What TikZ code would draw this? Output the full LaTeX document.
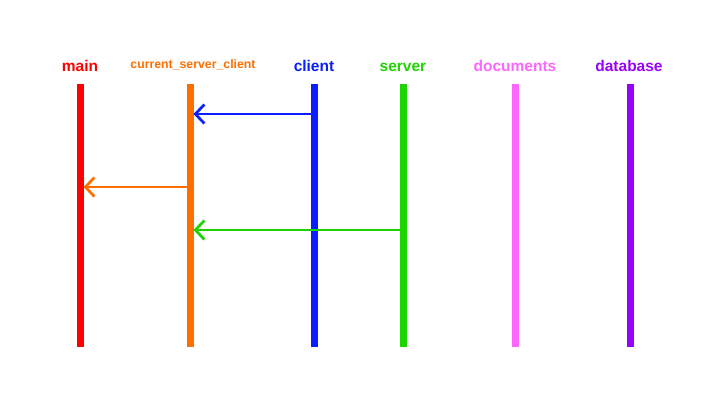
\documentclass[tikz,border=0pt]{standalone}
\usepackage{fontspec}
\setmainfont{Liberation Sans}
\usepackage{tikz}
\usetikzlibrary{arrows.meta}

\definecolor{cmain}{HTML}{FF0000}
\definecolor{ccurrent}{HTML}{FF6F00}
\definecolor{cclient}{HTML}{0A1EFF}
\definecolor{cserver}{HTML}{1ED400}
\definecolor{cdocs}{HTML}{FF66FF}
\definecolor{cdb}{HTML}{9900FF}

\begin{document}
\begin{tikzpicture}[x=1pt,y=-1pt,
        lifeline/.style={line width=7pt,draw=#1},
        actor/.style={font=\bfseries\fontsize{15.5}{18}\selectfont,text=#1,inner sep=0pt,anchor=base},
        msg/.style={line width=2.7pt,draw=#1,-{Straight Barb[length=9pt,width=19pt,line width=2.7pt]}},
    ]
    \useasboundingbox (0,0) rectangle (707,408);
    % labels
    \node[actor=cmain] (main) at (80,71) {main};
    \node[actor=ccurrent,font=\bfseries\fontsize{12.3}{14}\selectfont] (current) at (193,68.5) {current\_server\_client};
    \node[actor=cclient] (client) at (314,71) {client};
    \node[actor=cserver] (server) at (403,71) {server};
    \node[actor=cdocs] (documents) at (515,71) {documents};
    \node[actor=cdb] (database) at (629,71) {database};
    % lifelines
    \draw[lifeline=cmain] (80,84) -- (80,347);
    \draw[lifeline=ccurrent] (190,84) -- (190,347);
    \draw[lifeline=cclient] (314,84) -- (314,347);
    \draw[lifeline=cserver] (403,84) -- (403,347);
    \draw[lifeline=cdocs] (515,84) -- (515,347);
    \draw[lifeline=cdb] (630,84) -- (630,347);
    % client -> current_server_client
    \coordinate (m1s) at (310.5,114);
    \coordinate (m1e) at (193.5,114);
    \draw[msg=cclient] (m1s) -- (m1e);
    % current_server_client -> main
    \coordinate (m2s) at (186.5,187);
    \coordinate (m2e) at (83.5,187);
    \draw[msg=ccurrent] (m2s) -- (m2e);
    % server -> current_server_client
    \coordinate (m3s) at (399.5,230);
    \coordinate (m3e) at (193.5,230);
    \draw[msg=cserver] (m3s) -- (m3e);
\end{tikzpicture}
\end{document}
